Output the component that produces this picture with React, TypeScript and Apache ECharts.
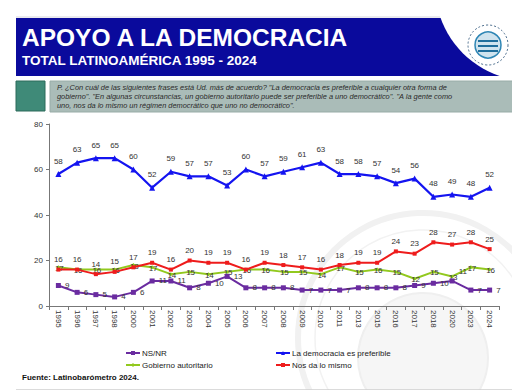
import React, { useEffect, useRef } from "react";
import * as echarts from "echarts";

const years = ["1995","1996","1997","1998","2000","2001","2002","2003","2004","2005","2006","2007","2008","2009","2010","2011","2013","2015","2016","2017","2018","2020","2023","2024"];
const democracia = [58,63,65,65,60,52,59,57,57,53,60,57,59,61,63,58,58,57,54,56,48,49,48,52];
const nosDaLoMismo = [16,16,14,15,17,19,16,20,19,19,16,19,18,17,16,18,19,19,24,23,28,27,28,25];
const autoritario = [17,16,16,16,18,17,14,15,14,15,16,16,15,15,14,17,15,16,15,12,15,13,17,16];
const nsnr = [9,6,5,4,6,11,11,8,10,13,8,8,8,7,7,7,8,8,8,9,10,11,7,7];
const yTicks = [0, 20, 40, 60, 80];

const title = "APOYO A LA DEMOCRACIA";
const subtitle = "TOTAL LATINOAMÉRICA 1995 - 2024";
const question = [
  "P. ¿Con cuál de las siguientes frases está Ud. más de acuerdo? \"La democracia es preferible a cualquier otra forma de",
  "gobierno\". \"En algunas circunstancias, un gobierno autoritario puede ser preferible a uno democrático\". \"A la gente como",
  "uno, nos da lo mismo un régimen democrático que uno no democrático\".",
];
const source = "Fuente: Latinobarómetro 2024.";

const FONT = "'Liberation Sans', Arial, sans-serif";

export default function App() {
  const ref = useRef<HTMLDivElement>(null);
  useEffect(() => {
    if (!ref.current) return;
    const chart = echarts.init(ref.current, null, { renderer: "svg" });
    const lbl = { fontSize: 8, color: "#333", fontFamily: FONT };
    const option: any = {
      animation: false,
      backgroundColor: "#fff",
      textStyle: { fontFamily: FONT },
      grid: { left: 41, right: 29, top: 116, bottom: 92 },
      xAxis: {
        type: "category",
        data: years,
        boundaryGap: true,
        axisLine: { lineStyle: { color: "#777" } },
        axisTick: { show: true, length: 4, lineStyle: { color: "#777" } },
        axisLabel: { rotate: -90, fontSize: 8, color: "#333", fontFamily: FONT, margin: 4 },
      },
      yAxis: {
        type: "value",
        min: yTicks[0],
        max: yTicks[yTicks.length - 1],
        interval: 20,
        axisLine: { show: true, lineStyle: { color: "#777" } },
        axisTick: { show: true, length: 3, lineStyle: { color: "#777" } },
        splitLine: { show: false },
        axisLabel: { fontSize: 8, color: "#333", fontFamily: FONT, margin: 6 },
      },
      legend: [
        {
          left: 112, top: 336, orient: "vertical", itemGap: 4, itemWidth: 14, itemHeight: 5,
          data: ["NS/NR", "Gobierno autoritario"],
          textStyle: { fontSize: 8, color: "#222", fontFamily: FONT, padding: [0, 0, 0, -3] },
        },
        {
          left: 262, top: 336, orient: "vertical", itemGap: 4, itemWidth: 14, itemHeight: 5,
          data: ["La democracia es preferible", "Nos da lo mismo"],
          textStyle: { fontSize: 8, color: "#222", fontFamily: FONT, padding: [0, 0, 0, -3] },
        },
      ],
      series: [
        {
          name: "Gobierno autoritario", type: "line", data: autoritario,
          color: "#92c91e", symbol: "diamond", symbolSize: 4,
          lineStyle: { width: 2 },
          label: { show: true, position: "inside", offset: [1, 1], ...lbl },
          z: 3,
        },
        {
          name: "Nos da lo mismo", type: "line", data: nosDaLoMismo,
          color: "#ee1c1c", symbol: "rect", symbolSize: 4,
          lineStyle: { width: 2 },
          label: { show: true, position: "top", distance: 4, ...lbl },
          z: 4,
        },
        {
          name: "NS/NR", type: "line",
          data: nsnr.map((v, i) => (i === 21 ? { value: v, label: { position: "right", offset: [0, -9] } } : v)),
          color: "#6a2ca0", symbol: "rect", symbolSize: 5,
          lineStyle: { width: 2 },
          label: { show: true, position: "right", distance: 4, ...lbl },
          z: 5,
        },
        {
          name: "La democracia es preferible", type: "line", data: democracia,
          color: "#1414f0", symbol: "triangle", symbolSize: 6,
          lineStyle: { width: 2.2 },
          label: { show: true, position: "top", distance: 6, ...lbl },
          z: 6,
        },
      ],
      graphic: [
        { type: "circle", shape: { cx: 415, cy: 330, r: 125 }, style: { fill: "none", stroke: "#f1f1f1", lineWidth: 6 }, z: -10, silent: true },
        { type: "circle", shape: { cx: 415, cy: 330, r: 108 }, style: { fill: "none", stroke: "#f2f2f2", lineWidth: 1.5 }, z: -10, silent: true },
        { type: "circle", shape: { cx: 415, cy: 350, r: 65 }, style: { fill: "#f6f6f6", stroke: "#efefef", lineWidth: 2 }, z: -10, silent: true },
        { type: "line", shape: { x1: 8, y1: 9, x2: 512, y2: 9 }, style: { stroke: "#d4d4dc", lineWidth: 1 }, silent: true },
        { type: "rect", shape: { x: 8, y: 10, width: 502, height: 58 }, style: { fill: "#0a0a9c" }, silent: true },
        { type: "circle", shape: { cx: 522, cy: -22, r: 95 }, style: { fill: "#ffffff" }, silent: true },
        { type: "circle", shape: { cx: 480, cy: 37, r: 20 }, style: { fill: "none", stroke: "#4a6c8c", lineWidth: 1, lineDash: [2, 2] }, silent: true },
        { type: "circle", shape: { cx: 480, cy: 37, r: 13 }, style: { fill: "#cfe3ee", stroke: "#2e86b5", lineWidth: 1.5 }, silent: true },
        { type: "rect", shape: { x: 470, y: 32, width: 20, height: 2 }, style: { fill: "#1f6e9c" }, silent: true },
        { type: "rect", shape: { x: 470, y: 37, width: 20, height: 2 }, style: { fill: "#1f6e9c" }, silent: true },
        { type: "rect", shape: { x: 470, y: 42, width: 20, height: 2 }, style: { fill: "#1f6e9c" }, silent: true },
        { type: "text", left: 14, top: 17, style: { text: title, fill: "#fff", font: `bold 24.5px ${FONT}` }, silent: true },
        { type: "text", left: 14, top: 45, style: { text: subtitle, fill: "#fff", font: `bold 13.5px ${FONT}` }, silent: true },
        { type: "rect", shape: { x: 8, y: 73, width: 29, height: 30 }, style: { fill: "#3f8a78", stroke: "#2c6a5b", lineWidth: 1 }, silent: true },
        { type: "rect", shape: { x: 42, y: 73, width: 468, height: 31 }, style: { fill: "#aabcb8", stroke: "#98aca7", lineWidth: 1 }, silent: true },
        { type: "text", left: 49, top: 75, style: { text: question.join("\n"), fill: "#2a2a2a", font: `italic 7.4px ${FONT}`, lineHeight: 9 }, silent: true },
        { type: "text", left: 14, top: 365, style: { text: source, fill: "#111", font: `bold 8px ${FONT}` }, silent: true },
        { type: "line", shape: { x1: 8, y1: 382, x2: 512, y2: 382 }, style: { stroke: "#cfcfcf", lineWidth: 1.5 }, silent: true },
      ],
    };
    chart.setOption(option);
    return () => chart.dispose();
  }, []);
  return <div ref={ref} style={{ width: 520, height: 390 }} />;
}
